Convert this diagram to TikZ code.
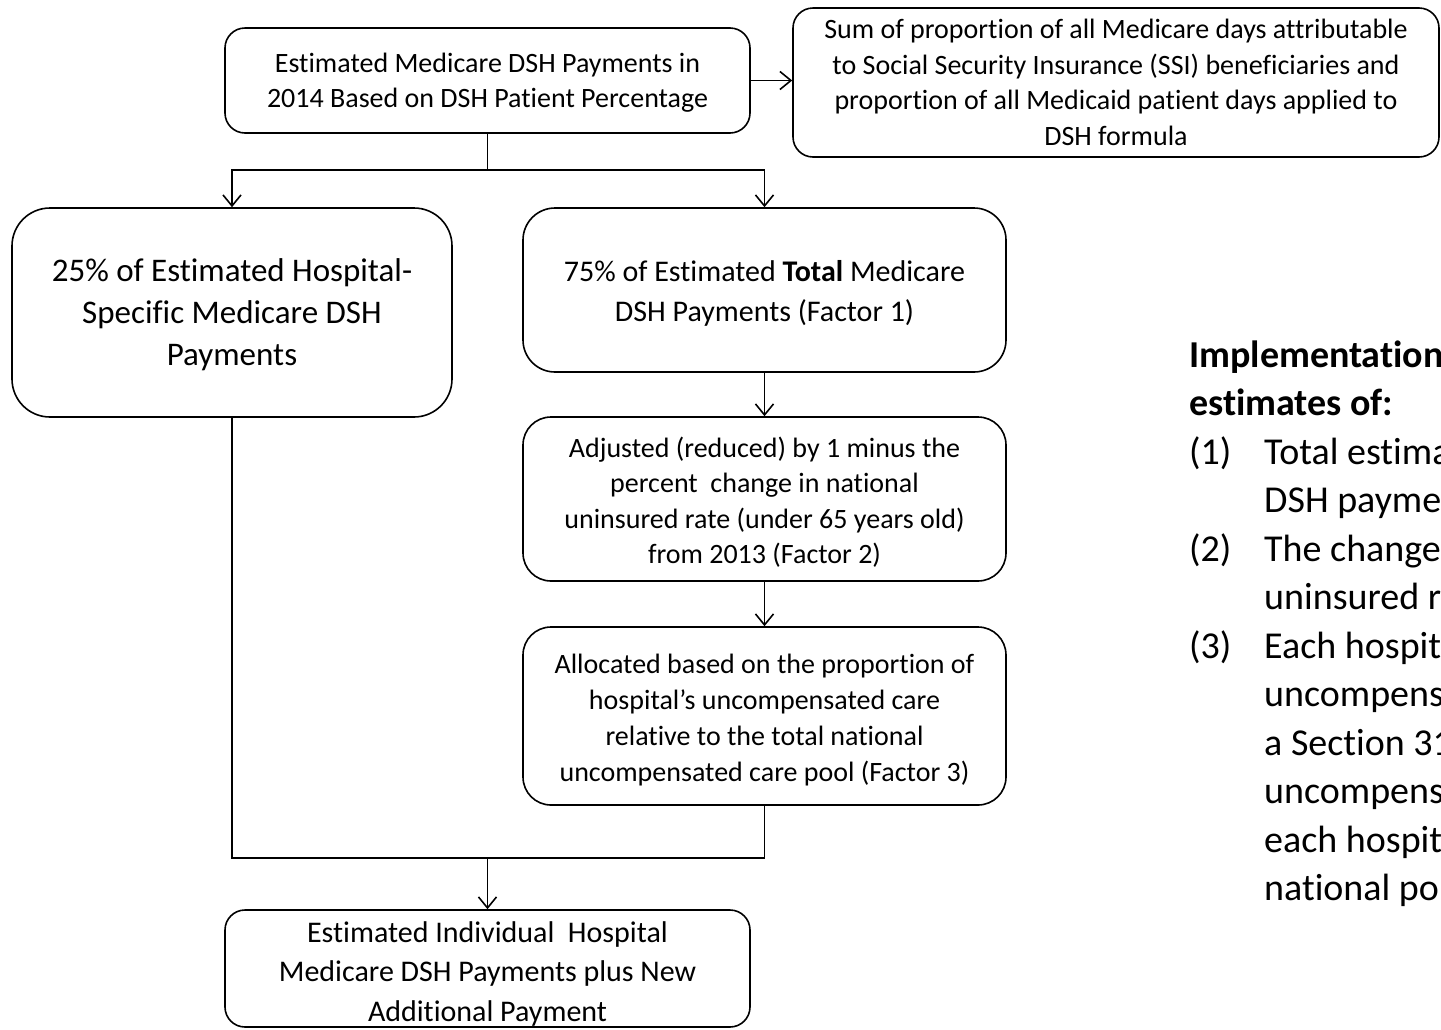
\documentclass[tikz,border=0pt]{standalone}
\usepackage{fontspec}
\setmainfont{Carlito}[Ligatures={NoCommon,NoContextual}]
\usetikzlibrary{arrows.meta}
\tikzset{
  box/.style={draw, line width=1.6pt, inner sep=0pt},
  txt/.style={align=center, inner sep=0pt},
  arr/.style={line width=1.6pt, -{Straight Barb[length=11pt,width=18pt,line width=1.6pt]}},
  conn/.style={line width=1.6pt},
  side/.style={anchor=base west, inner sep=0pt, font=\fontsize{38}{48}\selectfont}
}
\begin{document}
\begin{tikzpicture}[x=1pt,y=-1pt]
\useasboundingbox (0,0) rectangle (1441,1029);
\clip (0,0) rectangle (1441,1029);

% boxes
\node[box, rounded corners=20pt, minimum width=525pt, minimum height=105pt] (top) at (487.5,80.5) {};
\node[box, rounded corners=20pt, minimum width=646pt, minimum height=149pt] (ssi) at (1116,82.5) {};
\node[box, rounded corners=38pt, minimum width=440pt, minimum height=209pt] (hsp) at (232,312.5) {};
\node[box, rounded corners=32pt, minimum width=483pt, minimum height=164pt] (tot) at (764.5,290) {};
\node[box, rounded corners=28pt, minimum width=483pt, minimum height=164pt] (adj) at (764.5,499) {};
\node[box, rounded corners=28pt, minimum width=483pt, minimum height=178pt] (alc) at (764.5,716) {};
\node[box, rounded corners=20pt, minimum width=525pt, minimum height=117pt] (fin) at (487.5,968.5) {};

% box texts
\node[txt, font=\fontsize{28}{35}\selectfont] (toptxt) at ([yshift=-2pt]top.center)
  {Estimated Medicare DSH Payments in\\2014 Based on DSH Patient Percentage};
\node[txt, font=\fontsize{28}{35.5}\selectfont] (ssitxt) at (ssi.center)
  {Sum of proportion of all Medicare days attributable\\to Social Security Insurance (SSI) beneficiaries and\\proportion of all Medicaid patient days applied to\\DSH formula};
\node[txt, font=\fontsize{33}{42}\selectfont] (hsptxt) at ([yshift=-2pt]hsp.center)
  {25\% of Estimated Hospital-\\Specific Medicare DSH\\Payments};
\node[txt, font=\fontsize{30}{40}\selectfont] (tottxt) at ([yshift=-3pt]tot.center)
  {75\% of Estimated \textbf{Total} Medicare\\DSH Payments (Factor 1)};
\node[txt, font=\fontsize{28}{35.5}\selectfont] (adjtxt) at ([yshift=-3pt]adj.center)
  {Adjusted (reduced) by 1 minus the\\percent\ \ change in national\\uninsured rate (under 65 years old)\\from 2013 (Factor 2)};
\node[txt, font=\fontsize{28}{36}\selectfont] (alctxt) at ([yshift=-4pt]alc.center)
  {Allocated based on the proportion of\\hospital’s uncompensated care\\relative to the total national\\uncompensated care pool (Factor 3)};
\node[txt, font=\fontsize{30}{39.5}\selectfont] (fintxt) at ([yshift=-5pt]fin.center)
  {Estimated Individual\ \ Hospital\\Medicare DSH Payments plus New\\Additional Payment};

% connectors
\draw[arr] (top.east) -- (top.east -| ssi.west);
\coordinate (j1) at (487.5,170);
\draw[conn] (top.south) -- (j1);
\draw[arr] (j1) -| (hsp.north);
\draw[arr] (j1) -| (tot.north);
\draw[arr] (tot.south) -- (adj.north);
\draw[arr] (adj.south) -- (alc.north);
\coordinate (j2) at (487.5,858);
\draw[conn] (hsp.south) |- (j2);
\draw[conn] (alc.south) |- (j2);
\draw[arr] (j2) -- (fin.north);

% side text (cropped at the right edge, as in the reference)
\node[side, font=\fontsize{38}{48}\selectfont\bfseries] (s1) at (1189,367) {Implementation};
\node[side, font=\fontsize{38}{48}\selectfont\bfseries] (s2) at (1189,415.5) {estimates of:};
\node[side] (n1) at (1189,464) {(1)};
\node[side] (t1) at (1264,464) {Total estima};
\node[side] (t2) at (1264,512.5) {DSH payme};
\node[side] (n2) at (1189,561) {(2)};
\node[side] (t3) at (1264,561) {The change};
\node[side] (t4) at (1264,609.5) {uninsured r};
\node[side] (n3) at (1189,658) {(3)};
\node[side] (t5) at (1264,658) {Each hospit};
\node[side] (t6) at (1264,706.5) {uncompens};
\node[side] (t7) at (1264,755) {a Section 31};
\node[side] (t8) at (1264,803.5) {uncompens};
\node[side] (t9) at (1264,852) {each hospit};
\node[side] (t10) at (1264,900.5) {national po};
\end{tikzpicture}
\end{document}
